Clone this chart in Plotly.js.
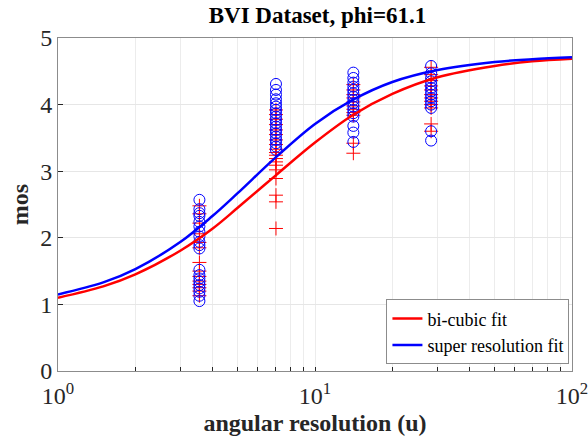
<!DOCTYPE html>
<html>
<head>
<meta charset="utf-8">
<script src="https://cdn.plot.ly/plotly-3.0.1.min.js"></script>
<style>html,body{margin:0;padding:0;background:#fff;}#chart{width:588px;height:441px;}</style>
</head>
<body>
<div id="chart"></div>
<script>
// angular resolution levels (u)
const levels = [3.55, 7.05, 14.1, 28.3];

// bi-cubic MOS samples per level
const bicubicMos = [
  [2.48, 2.36, 2.22, 2.06, 1.93, 1.85, 1.63, 1.5, 1.42, 1.35, 1.3, 1.25, 1.2, 1.13],
  [3.92, 3.85, 3.78, 3.7, 3.62, 3.55, 3.47, 3.4, 3.33, 3.28, 3.24, 3.19, 3.14, 3.09, 3.02, 2.89, 2.64, 2.54, 2.14],
  [4.3, 4.22, 4.15, 4.1, 4.04, 3.98, 3.93, 3.88, 3.84, 3.42, 3.27],
  [4.56, 4.45, 4.36, 4.28, 4.22, 4.15, 4.1, 4.05, 4.0, 3.95, 3.71, 3.6]
];

// super-resolution MOS samples per level
const srMos = [
  [2.57, 2.43, 2.37, 2.33, 2.24, 2.17, 2.09, 2.02, 1.94, 1.89, 1.84, 1.52, 1.44, 1.39, 1.34, 1.29, 1.24, 1.19, 1.13, 1.05],
  [4.31, 4.22, 4.15, 4.08, 4.02, 3.97, 3.92, 3.87, 3.82, 3.77, 3.72, 3.67, 3.62, 3.57, 3.52, 3.47, 3.42, 3.37, 3.32],
  [4.48, 4.4, 4.33, 4.27, 4.22, 4.17, 4.12, 4.07, 4.02, 3.97, 3.92, 3.87, 3.82, 3.68, 3.58, 3.44],
  [4.58, 4.47, 4.4, 4.35, 4.3, 4.25, 4.2, 4.15, 4.1, 4.05, 4.0, 3.95, 3.6, 3.46]
];

// fitted curves (sampled)
const fitX = [1, 1.5, 2, 3, 4, 5, 7, 10, 14, 20, 30, 50, 70, 100];
const bicubicFit = [1.10, 1.27, 1.45, 1.81, 2.14, 2.45, 2.93, 3.43, 3.84, 4.16, 4.41, 4.58, 4.65, 4.69];
const srFit = [1.15, 1.33, 1.53, 1.94, 2.33, 2.67, 3.20, 3.71, 4.07, 4.34, 4.52, 4.64, 4.68, 4.71];

// x tick grid positions and labels
const xTickVals = [1,2,3,4,5,6,7,8,9,10,20,30,40,50,60,70,80,90,100];
const xTickText = xTickVals.map(v => v === 1 ? '10<sup>0</sup>' : v === 10 ? '10<sup>1</sup>' : v === 100 ? '10<sup>2</sup>' : '');

function flatten(groups) {
  const xs = [], ys = [];
  groups.forEach((g, i) => g.forEach(v => { xs.push(levels[i]); ys.push(v); }));
  return {xs, ys};
}
const bc = flatten(bicubicMos);
const sr = flatten(srMos);

const traces = [
  {x: bc.xs, y: bc.ys, type: 'scatter', mode: 'markers', showlegend: false,
   marker: {symbol: 'cross-thin-open', size: 10, color: '#ff0000', line: {color: '#ff0000', width: 1}}},
  {x: sr.xs, y: sr.ys, type: 'scatter', mode: 'markers', showlegend: false,
   marker: {symbol: 'circle-open', size: 11, color: '#0000ff', line: {color: '#0000ff', width: 1}}},
  {x: fitX, y: bicubicFit, type: 'scatter', mode: 'lines', name: 'bi-cubic fit',
   line: {color: '#ff0000', width: 2.5, shape: 'spline'}},
  {x: fitX, y: srFit, type: 'scatter', mode: 'lines', name: 'super resolution fit',
   line: {color: '#0000ff', width: 2.5, shape: 'spline'}}
];

const serif = 'Times New Roman';
const layout = {
  width: 588, height: 441,
  margin: {l: 58, r: 16, t: 38, b: 70},
  paper_bgcolor: '#ffffff', plot_bgcolor: '#ffffff',
  font: {family: serif, color: '#262626', size: 20},
  title: {text: '<b>BVI Dataset, phi=61.1</b>', font: {family: serif, size: 23, color: '#000'}, x: 0.54, xanchor: 'center', y: 0.967, yanchor: 'middle'},
  xaxis: {
    type: 'log', range: [0, 2],
    tickvals: xTickVals, ticktext: xTickText,
    ticks: 'inside', ticklen: 4, tickcolor: '#262626',
    ticklabelstandoff: 3, ticklabeloverflow: 'allow',
    showgrid: true, gridcolor: '#ececec', gridwidth: 1,
    showline: true, linecolor: '#8c8c8c', linewidth: 1, mirror: true,
    zeroline: false,
    tickfont: {family: serif, size: 24, color: '#262626'},
    title: {text: '<b>angular resolution (u)</b>', font: {family: serif, size: 24, color: '#262626'}, standoff: 6}
  },
  yaxis: {
    range: [0, 5], dtick: 1,
    ticks: 'inside', ticklen: 5, tickcolor: '#262626',
    showgrid: true, gridcolor: '#e6e6e6', gridwidth: 1,
    showline: true, linecolor: '#8c8c8c', linewidth: 1, mirror: true,
    zeroline: false,
    tickfont: {family: serif, size: 24, color: '#262626'},
    title: {text: '<b>mos</b>', font: {family: serif, size: 24, color: '#262626'}, standoff: 4}
  },
  legend: {
    x: 0.995, y: 0.02, xanchor: 'right', yanchor: 'bottom',
    bgcolor: '#ffffff', bordercolor: '#8c8c8c', borderwidth: 1,
    font: {family: serif, size: 18, color: '#000'},
    tracegroupgap: 0, itemwidth: 30
  },
  showlegend: true
};

Plotly.newPlot('chart', traces, layout, {displayModeBar: false, staticPlot: true});
</script>
</body>
</html>
